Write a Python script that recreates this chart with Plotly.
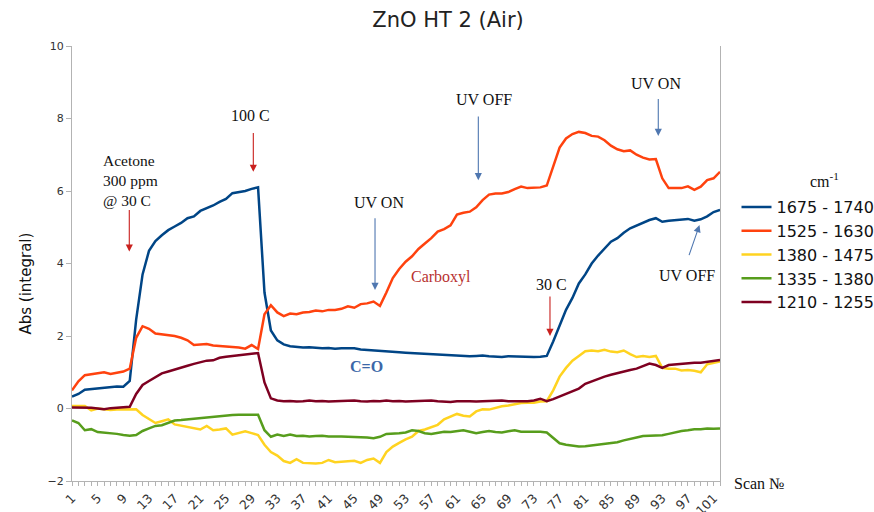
import plotly.graph_objects as go

# Scan numbers
scans = list(range(1, 103))

# Integrated absorbance per wavenumber band (cm-1)
band_1675_1740 = [
    0.33, 0.40, 0.52, 0.54, 0.56, 0.57, 0.60, 0.61, 0.60, 0.76,
    2.45, 3.70, 4.35, 4.62, 4.78, 4.92, 5.02, 5.12, 5.25, 5.30,
    5.45, 5.52, 5.60, 5.70, 5.78, 5.94, 5.97, 6.00, 6.06, 6.10,
    3.20, 2.15, 1.88, 1.77, 1.72, 1.70, 1.68, 1.69, 1.67, 1.66,
    1.67, 1.65, 1.66, 1.67, 1.66, 1.63, 1.62, 1.60, 1.60, 1.58,
    1.57, 1.55, 1.54, 1.53, 1.52, 1.50, 1.49, 1.48, 1.47, 1.45,
    1.44, 1.45, 1.44, 1.45, 1.46, 1.44, 1.43, 1.42, 1.44, 1.43,
    1.42, 1.43, 1.42, 1.43, 1.45, 1.85, 2.30, 2.72, 3.05, 3.45,
    3.70, 4.00, 4.22, 4.40, 4.60, 4.70, 4.85, 4.97, 5.05, 5.12,
    5.20, 5.25, 5.15, 5.18, 5.20, 5.20, 5.23, 5.18, 5.22, 5.30,
    5.42, 5.48,
]
band_1525_1630 = [
    0.50, 0.75, 0.92, 0.95, 0.97, 1.00, 0.95, 0.98, 1.02, 1.10,
    1.95, 2.27, 2.20, 2.07, 2.05, 2.03, 2.00, 1.95, 1.88, 1.75,
    1.76, 1.78, 1.74, 1.73, 1.72, 1.70, 1.68, 1.65, 1.75, 1.64,
    2.60, 2.85, 2.65, 2.55, 2.62, 2.60, 2.65, 2.66, 2.70, 2.68,
    2.72, 2.72, 2.75, 2.82, 2.78, 2.88, 2.90, 2.95, 2.83, 3.20,
    3.60, 3.85, 4.05, 4.20, 4.40, 4.55, 4.70, 4.88, 4.95, 5.05,
    5.35, 5.40, 5.43, 5.55, 5.75, 5.90, 5.93, 5.93, 5.97, 6.05,
    6.12, 6.08, 6.08, 6.10, 6.15, 6.65, 7.20, 7.45, 7.57, 7.63,
    7.60, 7.52, 7.50, 7.40, 7.25, 7.15, 7.10, 7.12, 7.00, 6.92,
    6.87, 6.88, 6.35, 6.08, 6.08, 6.08, 6.13, 6.03, 6.12, 6.30,
    6.35, 6.53,
]
band_1380_1475 = [
    0.07, 0.06, 0.07, -0.05, 0.00, -0.02, -0.04, -0.03, -0.03, -0.02,
    -0.02, -0.18, -0.30, -0.40, -0.35, -0.30, -0.44, -0.48, -0.52, -0.55,
    -0.58, -0.48, -0.60, -0.58, -0.55, -0.72, -0.67, -0.63, -0.68, -0.73,
    -1.00, -1.20, -1.30, -1.45, -1.50, -1.40, -1.50, -1.52, -1.52, -1.50,
    -1.42, -1.48, -1.46, -1.45, -1.44, -1.50, -1.42, -1.38, -1.50, -1.20,
    -1.05, -0.95, -0.85, -0.78, -0.62, -0.58, -0.52, -0.45, -0.30, -0.22,
    -0.15, -0.20, -0.22, -0.08, -0.02, -0.03, 0.02, 0.06, 0.08, 0.12,
    0.15, 0.16, 0.16, 0.19, 0.20, 0.50, 0.88, 1.12, 1.32, 1.45,
    1.58, 1.60, 1.58, 1.62, 1.57, 1.55, 1.60, 1.50, 1.42, 1.45,
    1.42, 1.45, 1.12, 1.10, 1.10, 1.05, 1.06, 1.04, 1.00, 1.22,
    1.25, 1.30,
]
band_1335_1380 = [
    -0.33, -0.40, -0.60, -0.57, -0.65, -0.66, -0.68, -0.70, -0.73, -0.75,
    -0.73, -0.62, -0.55, -0.48, -0.46, -0.40, -0.33, -0.32, -0.30, -0.29,
    -0.27, -0.25, -0.23, -0.22, -0.20, -0.18, -0.17, -0.17, -0.17, -0.17,
    -0.60, -0.78, -0.72, -0.76, -0.72, -0.76, -0.75, -0.77, -0.76, -0.75,
    -0.77, -0.76, -0.77, -0.78, -0.78, -0.79, -0.80, -0.82, -0.78, -0.70,
    -0.70, -0.68, -0.66, -0.60, -0.62, -0.68, -0.70, -0.66, -0.64, -0.65,
    -0.62, -0.60, -0.64, -0.68, -0.65, -0.62, -0.65, -0.66, -0.63, -0.60,
    -0.64, -0.64, -0.62, -0.64, -0.66, -0.80, -0.96, -1.00, -1.03, -1.05,
    -1.04, -1.02, -1.00, -0.98, -0.95, -0.93, -0.88, -0.83, -0.80, -0.76,
    -0.76, -0.76, -0.74, -0.70, -0.65, -0.62, -0.60, -0.57, -0.57, -0.55,
    -0.56, -0.55,
]
band_1210_1255 = [
    0.03, 0.03, 0.03, 0.02, 0.00, -0.02, 0.01, 0.03, 0.05, 0.05,
    0.40, 0.65, 0.76, 0.87, 0.97, 1.02, 1.08, 1.12, 1.18, 1.23,
    1.28, 1.32, 1.33, 1.40, 1.43, 1.45, 1.46, 1.48, 1.52, 1.53,
    0.72, 0.28, 0.22, 0.20, 0.21, 0.19, 0.20, 0.22, 0.20, 0.21,
    0.19, 0.20, 0.21, 0.20, 0.22, 0.20, 0.19, 0.21, 0.20, 0.22,
    0.20, 0.21, 0.19, 0.20, 0.21, 0.20, 0.22, 0.20, 0.19, 0.18,
    0.20, 0.21, 0.20, 0.19, 0.20, 0.21, 0.20, 0.22, 0.20, 0.21,
    0.20, 0.20, 0.22, 0.27, 0.20, 0.26, 0.33, 0.40, 0.46, 0.55,
    0.68, 0.75, 0.80, 0.88, 0.93, 0.98, 1.02, 1.06, 1.10, 1.17,
    1.24, 1.20, 1.12, 1.20, 1.22, 1.24, 1.25, 1.26, 1.26, 1.28,
    1.30, 1.34,
]

series_names = ["1675 - 1740", "1525 - 1630", "1380 - 1475", "1335 - 1380", "1210 - 1255"]
series_values = [band_1675_1740, band_1525_1630, band_1380_1475, band_1335_1380, band_1210_1255]
series_colors = ["#004586", "#ff420e", "#ffd320", "#579d1c", "#7e0021"]

tick_values = list(range(1, 103, 4))
tick_labels = [str(v) for v in tick_values]

SANS = "DejaVu Sans"
SERIF = "Liberation Serif"
AXIS_GREY = "#b3b3b3"
RED = "#c9211e"
BLUE = "#4f77b0"

fig = go.Figure()
for name, vals, color in zip(series_names, series_values, series_colors):
    fig.add_trace(go.Scatter(
        x=scans, y=vals, mode="lines", name=name,
        line=dict(color=color, width=2.5),
    ))


def label(text, x, y, size=16, color="#111", bold=False, xanchor="center", align="center"):
    if bold:
        text = "<b>" + text + "</b>"
    return dict(text=text, x=x, y=y, xref="x", yref="y", showarrow=False,
                xanchor=xanchor, yanchor="middle", align=align,
                font=dict(family=SERIF, size=size, color=color))


def arrow(x0, y0, x1, y1, color):
    return dict(text="", x=x1, y=y1, ax=x0, ay=y0, xref="x", yref="y",
                axref="x", ayref="y", showarrow=True, arrowhead=2,
                arrowsize=1.3, arrowwidth=1.1, arrowcolor=color, standoff=0)


annotations = [
    label("Acetone<br>300 ppm<br>@ 30 C", 5.47, 6.30, size=15.5, xanchor="left", align="left"),
    arrow(9.93, 5.52, 9.93, 4.33, RED),
    label("100 C", 28.87, 8.07),
    arrow(29.26, 7.64, 29.26, 6.53, RED),
    label("UV ON", 48.85, 5.68),
    arrow(48.23, 5.29, 48.23, 3.27, BLUE),
    label("UV OFF", 65.2, 8.53),
    arrow(64.33, 8.10, 64.33, 6.30, BLUE),
    label("UV ON", 92.0, 8.97),
    arrow(92.38, 8.58, 92.38, 7.52, BLUE),
    label("UV OFF", 96.83, 3.68),
    arrow(97.1, 4.19, 98.8, 5.06, BLUE),
    label("30 C", 75.81, 3.43),
    arrow(75.5, 3.13, 75.5, 2.00, RED),
    label("Carboxyl", 58.51, 3.64, color="#b8312f"),
    label("C=O", 46.93, 1.17, color="#3c67a8", bold=True),
    dict(text="Scan №", x=1.060, y=-0.005, xref="paper", yref="paper",
         showarrow=False, xanchor="center", yanchor="middle",
         font=dict(family=SERIF, size=16, color="#111")),
    dict(text="cm<sup>-1</sup>", x=1.162, y=0.692, xref="paper", yref="paper",
         showarrow=False, xanchor="center", yanchor="middle",
         font=dict(family=SERIF, size=16, color="#111")),
    dict(text="Abs (integral)", x=-0.0725, y=0.454, xref="paper", yref="paper",
         showarrow=False, textangle=-90, xanchor="center", yanchor="middle",
         font=dict(family=SANS, size=15, color="#111")),
]

fig.update_layout(
    width=874, height=512,
    margin=dict(l=72, r=154, t=46, b=31, autoexpand=False),
    paper_bgcolor="white", plot_bgcolor="white",
    title=dict(text="ZnO HT 2 (Air)", x=448 / 874, xref="container", xanchor="center",
               y=1 - 20 / 512, yref="container", yanchor="middle",
               font=dict(family=SANS, size=21, color="#222")),
    showlegend=True,
    legend=dict(x=736.5 / 874, xref="container", y=0.669, xanchor="left", yanchor="top",
                font=dict(family=SANS, size=16, color="#111"),
                bgcolor="rgba(0,0,0,0)", itemwidth=30, tracegroupgap=0),
    annotations=annotations,
)

fig.update_xaxes(
    range=[1, 102], tickmode="array", tickvals=tick_values, ticktext=tick_labels,
    tickangle=-45, ticks="outside", ticklen=4, tickcolor=AXIS_GREY,
    showline=True, linecolor=AXIS_GREY, linewidth=1,
    showgrid=False, zeroline=False, automargin=False,
    tickfont=dict(family=SANS, size=12.5, color="#333"),
    minor=dict(tick0=1, dtick=1, ticks="outside", ticklen=4, tickcolor=AXIS_GREY, showgrid=False),
)
fig.update_yaxes(
    range=[-2, 10], dtick=2, tick0=0, ticks="outside", ticklen=5, tickcolor=AXIS_GREY,
    showline=True, mirror=True, linecolor=AXIS_GREY, linewidth=1,
    showgrid=False, zeroline=False, automargin=False,
    tickfont=dict(family=SANS, size=11, color="#333"),
)

fig.write_html("out.html")
